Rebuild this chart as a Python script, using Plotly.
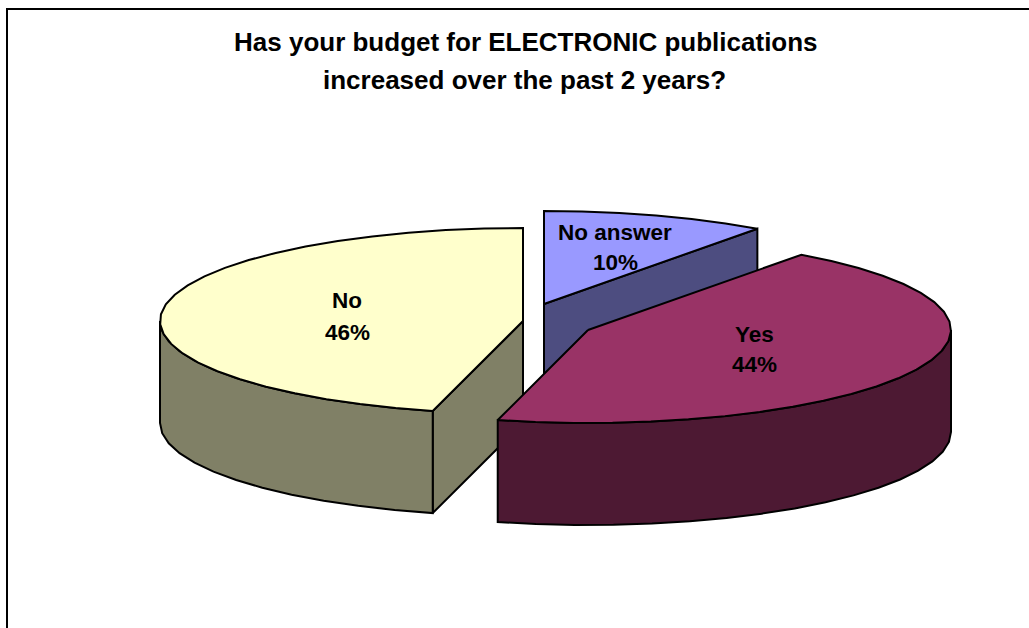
import numpy as np
import plotly.graph_objects as go

# Survey answers, clockwise from twelve o'clock
categories = ["No answer", "Yes", "No"]
shares = [10, 44, 46]
title_lines = ["Has your budget for ELECTRONIC publications",
               "increased over the past 2 years?"]

top_colors = ["#9999FF", "#993366", "#FFFFCC"]
side_colors = ["#4D4D80", "#4D1933", "#808066"]

# Pie drawn as a tilted disc in page pixels; each slice keeps its own pulled-out centre
RX, RY, DEPTH = 363, 93, 102
centers = {"No answer": (544, 304), "Yes": (588, 330), "No": (523, 321)}
label_anchor = {"No answer": (615, 232, 262), "Yes": (754, 334, 364), "No": (347, 300, 332)}
OUTLINE = dict(color="black", width=2)


def rim_point(cx, cy, deg):
    a = np.radians(deg)
    return cx + RX * np.sin(a), cy - RY * np.cos(a)


def arc(cx, cy, a0, a1, step=6):
    n = max(2, int(abs(a1 - a0) / step) + 1)
    degs = np.linspace(a0, a1, n)
    return rim_point(cx, cy, degs)


def poly(fig, xs, ys, color):
    fig.add_trace(go.Scatter(x=list(xs), y=list(ys), mode="lines", fill="toself",
                             fillcolor=color, line=OUTLINE, hoverinfo="skip",
                             showlegend=False))


# Slice sweeps derived from the shares
edges = np.cumsum([0] + shares) * 3.6
sweep = {c: (edges[i], edges[i + 1]) for i, c in enumerate(categories)}
color_of = {c: (top_colors[i], side_colors[i]) for i, c in enumerate(categories)}

fig = go.Figure()

# Back to front: the slices overlap in this order
for name in ["No answer", "No", "Yes"]:
    a0, a1 = sweep[name]
    cx, cy = centers[name]
    top, side = color_of[name]

    # Cut face on the clockwise-start edge, visible on the two rear slices
    if name in ("No answer", "No"):
        ex, ey = rim_point(cx, cy, a1 if name == "No answer" else a0)
        poly(fig, [cx, ex, ex, cx, cx], [cy, ey, ey + DEPTH, cy + DEPTH, cy], side)

    # Curved outer wall, only the part of the rim facing the viewer
    low, high = max(a0, 90), min(a1, 270)
    if low < high:
        ax, ay = arc(cx, cy, low, high)
        poly(fig, np.r_[ax, ax[::-1], ax[0]], np.r_[ay, ay[::-1] + DEPTH, ay[0]], side)

    # Top surface
    ax, ay = arc(cx, cy, a0, a1)
    poly(fig, np.r_[cx, ax, cx], np.r_[cy, ay, cy], top)

# Frame runs off the right and bottom of the page
fig.add_shape(type="line", x0=7, x1=7, y0=8, y1=628, line=dict(color="black", width=2))
fig.add_shape(type="line", x0=6, x1=1029, y0=9, y1=9, line=dict(color="black", width=2))

FONT = "Liberation Sans, Arial, sans-serif"


def text(x, y, s, size):
    fig.add_annotation(x=x, y=y, text=f"<b>{s}</b>", showarrow=False, xanchor="center",
                       yanchor="middle", font=dict(family=FONT, size=size, color="black"))


text(526, 42, title_lines[0], 26)
text(524, 80, title_lines[1], 26)
for name, share in zip(categories, shares):
    lx, ly0, ly1 = label_anchor[name]
    text(lx, ly0, name, 22.5)
    text(lx, ly1, f"{share}%", 22.5)

fig.update_layout(width=1029, height=628, margin=dict(l=0, r=0, t=0, b=0),
                  plot_bgcolor="white", paper_bgcolor="white", showlegend=False,
                  xaxis=dict(range=[0, 1029], visible=False, fixedrange=True),
                  yaxis=dict(range=[628, 0], visible=False, fixedrange=True))

fig.write_html("out.html", config={"displayModeBar": False})
